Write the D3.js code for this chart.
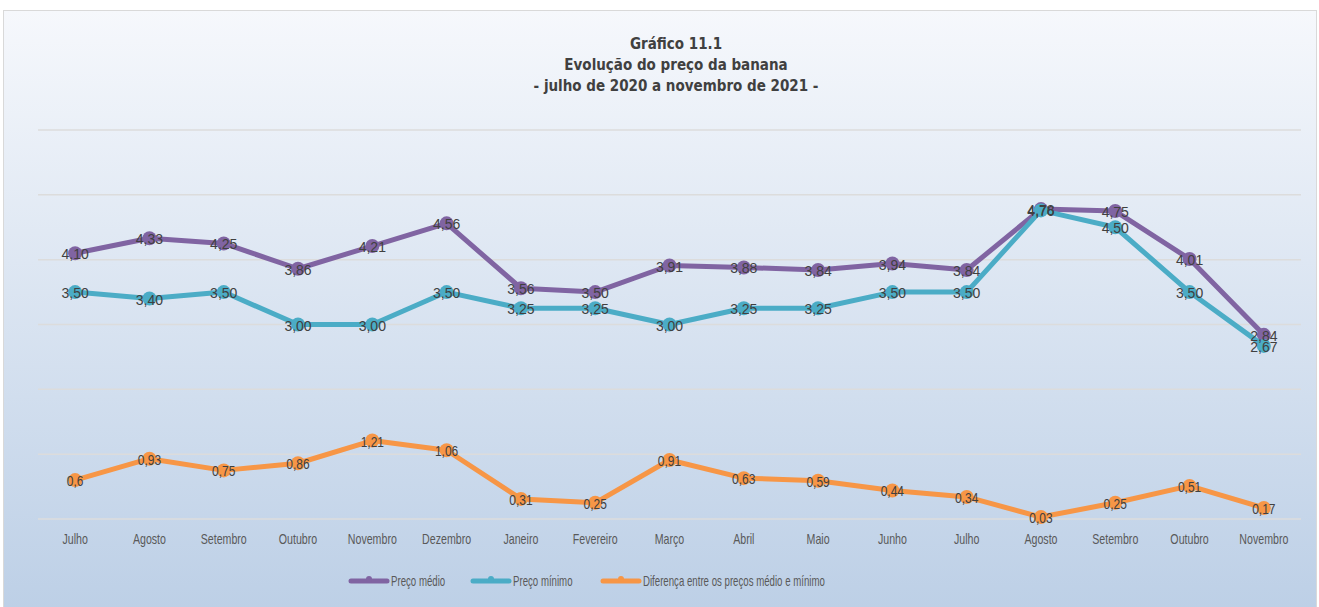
<!DOCTYPE html>
<html>
<head>
<meta charset="utf-8">
<script src="https://cdn.jsdelivr.net/npm/d3@7"></script>
<style>
  html, body { margin: 0; padding: 0; background: #fff; }
  svg { display: block; }
  .narrow { font-family: "Liberation Sans", Arial, sans-serif; }
  .titulo { font-family: "DejaVu Sans Condensed", "DejaVu Sans", sans-serif; }
</style>
</head>
<body>
<div id="chart"></div>
<script>
(function () {
    'use strict';

    var meses = ["Julho", "Agosto", "Setembro", "Outubro", "Novembro", "Dezembro", "Janeiro",
        "Fevereiro", "Março", "Abril", "Maio", "Junho", "Julho", "Agosto", "Setembro",
        "Outubro", "Novembro"];
    var precoMedio = [4.10, 4.33, 4.25, 3.86, 4.21, 4.56, 3.56, 3.50, 3.91, 3.88, 3.84, 3.94,
        3.84, 4.78, 4.75, 4.01, 2.84];
    var precoMinimo = [3.50, 3.40, 3.50, 3.00, 3.00, 3.50, 3.25, 3.25, 3.00, 3.25, 3.25, 3.50,
        3.50, 4.76, 4.50, 3.50, 2.67];
    var diferenca = [0.6, 0.93, 0.75, 0.86, 1.21, 1.06, 0.31, 0.25, 0.91, 0.63, 0.59, 0.44,
        0.34, 0.03, 0.25, 0.51, 0.17];
    var yTicks = [0, 1, 2, 3, 4, 5, 6];
    var titulos = ["Gráfico 11.1", "Evolução do preço da banana", "- julho de 2020 a novembro de 2021 -"];

    var w = 1319,
        h = 607;

    // squeeze text horizontally around its x (no narrow font installed)
    function condense(sel, k) {
        sel.attr("transform", function () {
            var x0 = +this.getAttribute("x") || 0;
            return "translate(" + x0 + ",0) scale(" + k + ",1) translate(" + (-x0) + ",0)";
        });
    }

    var svg = d3.select("#chart").append("svg")
        .attr("width", w)
        .attr("height", h);

    var grad = svg.append("defs").append("linearGradient")
        .attr("id", "bg")
        .attr("x1", 0).attr("y1", 0).attr("x2", 0).attr("y2", 1);
    grad.append("stop").attr("offset", "0%").attr("stop-color", "#f6f8fc");
    grad.append("stop").attr("offset", "100%").attr("stop-color", "#bccfe6");

    svg.append("rect")
        .attr("x", 3.5).attr("y", 10.5)
        .attr("width", w - 6).attr("height", h)
        .attr("fill", "url(#bg)")
        .attr("stroke", "#d9d9d9");

    // titles
    svg.selectAll(".titulo")
        .data(titulos)
        .enter().append("text")
        .attr("class", "titulo")
        .attr("x", 676)
        .attr("y", function (d, i) { return 49 + i * 21; })
        .attr("text-anchor", "middle")
        .attr("font-size", 15)
        .attr("font-weight", "bold")
        .attr("fill", "#404040")
        .text(function (d) { return d; });

    var x = d3.scaleBand().domain(d3.range(meses.length)).range([38, 1301]),
        y = d3.scaleLinear().domain([0, 6]).range([519, 130]);

    var cx = function (d, i) { return x(i) + x.bandwidth() / 2; };

    // gridlines
    svg.selectAll(".grid")
        .data(yTicks)
        .enter().append("line")
        .attr("x1", 38).attr("x2", 1301)
        .attr("y1", function (d) { return y(d); })
        .attr("y2", function (d) { return y(d); })
        .attr("stroke", "#dcdcdc")
        .attr("stroke-width", 1.5);

    // x axis labels
    var xAxis = d3.axisBottom(x)
        .tickFormat(function (i) { return meses[i]; })
        .tickSize(0)
        .tickPadding(15);
    var gx = svg.append("g")
        .attr("transform", "translate(0," + y(0) + ")")
        .call(xAxis);
    gx.select(".domain").remove();
    gx.selectAll("text")
        .attr("class", "narrow")
        .attr("font-size", 14)
        .attr("fill", "#595959")
        .call(condense, 0.76);

    var series = [
        { nome: "Preço médio", valores: precoMedio, cor: "#8064a2", fmt: function (v) { return v.toFixed(2).replace(".", ","); }, k: 1 },
        { nome: "Preço mínimo", valores: precoMinimo, cor: "#4bacc6", fmt: function (v) { return v.toFixed(2).replace(".", ","); }, k: 1 },
        { nome: "Diferença entre os preços médio e mínimo", valores: diferenca, cor: "#f79646", fmt: function (v) { return String(v).replace(".", ","); }, k: 0.8 }
    ];

    var line = d3.line()
        .x(cx)
        .y(function (d) { return y(d); });

    series.forEach(function (s) {
        svg.append("path")
            .datum(s.valores)
            .attr("fill", "none")
            .attr("stroke", s.cor)
            .attr("stroke-width", 5)
            .attr("stroke-linejoin", "round")
            .attr("d", line);
        svg.append("g").selectAll("circle")
            .data(s.valores)
            .enter().append("circle")
            .attr("cx", cx)
            .attr("cy", function (d) { return y(d); })
            .attr("r", 7)
            .attr("fill", s.cor);
    });

    series.forEach(function (s) {
        svg.append("g").selectAll("text")
            .data(s.valores)
            .enter().append("text")
            .attr("class", "narrow")
            .attr("x", cx)
            .attr("y", function (d) { return y(d) + 6; })
            .attr("text-anchor", "middle")
            .attr("font-size", s.k < 1 ? 15 : 14)
            .attr("fill", "#404040")
            .text(s.fmt)
            .call(condense, s.k);
    });

    // legend
    var legX = [350, 472, 602];
    var leg = svg.selectAll(".leg")
        .data(series)
        .enter().append("g")
        .attr("transform", function (d, i) { return "translate(" + legX[i] + ",581)"; });
    leg.append("line")
        .attr("x1", 1).attr("x2", 37)
        .attr("stroke", function (d) { return d.cor; })
        .attr("stroke-width", 5)
        .attr("stroke-linecap", "round");
    leg.append("circle")
        .attr("cx", 19).attr("cy", -2)
        .attr("r", 3)
        .attr("fill", function (d) { return d.cor; });
    leg.append("text")
        .attr("class", "narrow")
        .attr("x", 41)
        .attr("y", 5)
        .attr("font-size", 14)
        .attr("fill", "#595959")
        .text(function (d) { return d.nome; })
        .call(condense, 0.69);
})();
</script>
</body>
</html>
